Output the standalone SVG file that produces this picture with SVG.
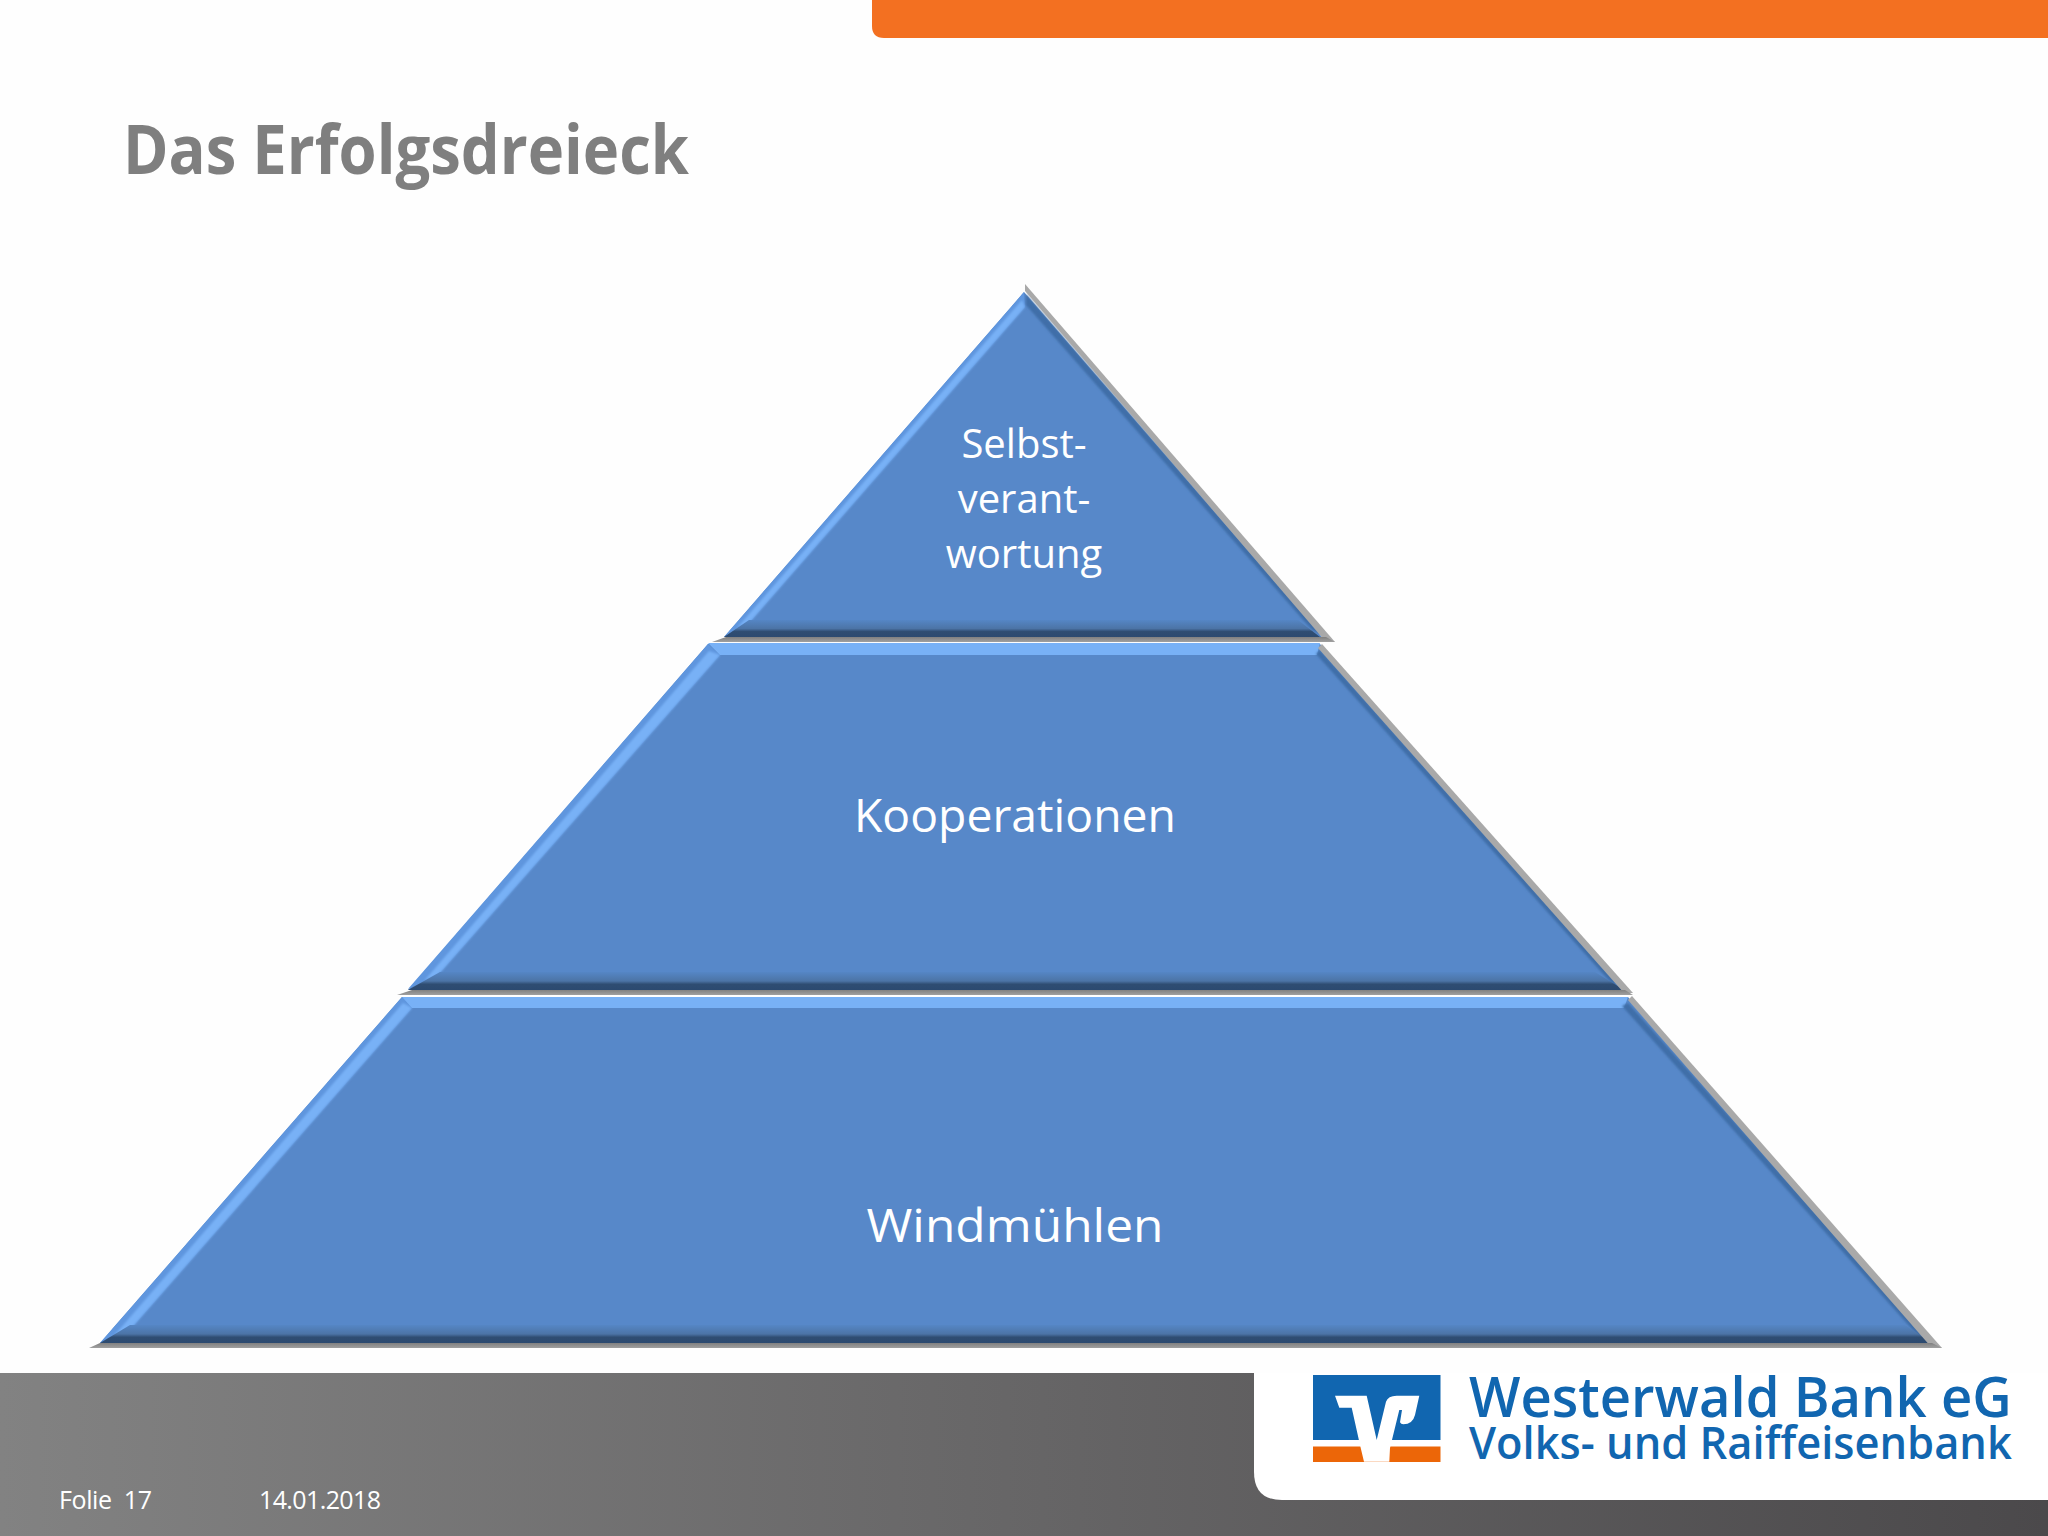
<svg xmlns="http://www.w3.org/2000/svg" width="2048" height="1536" viewBox="0 0 2048 1536">
<defs>
<style>
.t{font-family:"Open Sans","Noto Sans","Liberation Sans",sans-serif;fill:#fff;text-anchor:middle}
.b{fill:#5788c9}.me{fill:#5f96de}.l{fill:#78b1f6;filter:url(#soft)}.lt{fill:#78b1f6}.g{fill:#a9a9a9}.gd{fill:url(#grey)}.bot{fill:url(#bot)}
.e{fill:#3f6ea8;filter:url(#soft)}
.logo{font-family:"Open Sans","Noto Sans",sans-serif;font-weight:600;fill:#1166b0}
.foot{font-family:"Open Sans",sans-serif;font-size:25px;fill:#fff}
</style>
<linearGradient id="foot" x1="0" x2="1" y1="0" y2="0"><stop offset="0" stop-color="#828282"/><stop offset="1" stop-color="#4b494b"/></linearGradient>
<linearGradient id="bot" x1="0" x2="0" y1="0" y2="1"><stop offset="0" stop-color="#5586c5"/><stop offset=".5" stop-color="#4c74a6"/><stop offset=".68" stop-color="#2f4d72"/><stop offset="1" stop-color="#2c4a70"/></linearGradient>
<linearGradient id="grey" x1="0" x2="0" y1="0" y2="1"><stop offset="0" stop-color="#808080"/><stop offset="1" stop-color="#a0a0a0"/></linearGradient>
<filter id="soft" x="-5%" y="-5%" width="110%" height="110%"><feGaussianBlur stdDeviation="1.300"/></filter>
</defs>
<rect width="2048" height="1536" fill="#fefefe"/>
<path d="M872 0H2048V38H884Q872 38 872 26Z" fill="#f37021"/>
<text x="123" y="174" font-family="'Open Sans',sans-serif" font-weight="700" font-size="68" fill="#7f7f7f" textLength="566" lengthAdjust="spacingAndGlyphs">Das Erfolgsdreieck</text>
<g id="foot-band">
<rect y="1373" width="2048" height="163" fill="url(#foot)"/>
<path d="M1254 1373V1472Q1254 1500 1282 1500H2048V1373Z" fill="#fff"/>
<text class="foot" x="59" y="1509" textLength="93" xml:space="preserve">Folie  17</text>
<text class="foot" x="259" y="1509" textLength="122">14.01.2018</text>
</g>
<g id="logo">
<rect x="1313" y="1375" width="127.500" height="65" fill="#1166b0"/>
<rect x="1313" y="1446.500" width="127.500" height="15.500" fill="#ec6608"/>
<path d="M1335 1395.700H1366.700L1376.700 1440L1386 1401.700Q1388 1395.700 1396.700 1395.700H1419.300L1415 1415Q1412.700 1424.300 1403.300 1424.300Q1401 1424.300 1400 1422.300L1402 1410H1399.300L1390 1448L1389.300 1461.700H1364L1360 1445L1351.700 1407.700H1339.300Z" fill="#fff"/>
<text class="logo" transform="translate(1469 1417) scale(.9 1)" font-size="56" textLength="603" lengthAdjust="spacingAndGlyphs">Westerwald Bank eG</text>
<text class="logo" transform="translate(1469 1459) scale(.87 1)" font-size="46" textLength="624" lengthAdjust="spacingAndGlyphs">Volks- und Raiffeisenbank</text>
</g>
<g id="connectors"/>
<g id="tier-top">
<path class="b" d="M1024 292L1322 637H724Z"/>
<path class="me" d="M1024 292L724 637L749 623L1025 307Z"/>
<path class="l" d="M1022 300L1025 307L749 623L737 628Z"/>
<path class="e" d="M1026 294L1324 636L1312 630L1026 305Z"/>
<path class="bot" d="M749 620H1298L1320 637H724Z"/>
<path class="g" d="M1025 284L1335 642H1326L1025 291Z"/>
<path class="gd" d="M712 642L726 637H1326L1335 642Z"/>
<text class="t" x="1024" y="458" font-size="40">Selbst-</text>
<text class="t" x="1024" y="513" font-size="40">verant-</text>
<text class="t" x="1024" y="568" font-size="40">wortung</text>
</g>
<g id="tier-mid">
<path class="b" d="M708 644H1320L1626 990H408Z"/>
<path class="me" d="M708 644L408 989L438 975L720 655Z"/>
<path class="l" d="M709 651L720 655L438 975L424 981Z"/>
<path class="lt" d="M708 643H1320L1317 655H720Z"/>
<path class="e" d="M1320 650L1624 990L1612 984L1316 654Z"/>
<path class="bot" d="M440 972H1595L1624 990H408Z"/>
<path class="g" d="M1322 644L1633 993H1624L1318 648Z"/>
<path class="gd" d="M397 995L412 990H1625L1633 995Z"/>
<text class="t" x="1015" y="832" font-size="46" textLength="322" lengthAdjust="spacingAndGlyphs">Kooperationen</text>
</g>
<g id="tier-base">
<path class="b" d="M402 997H1628L1933 1343H100Z"/>
<path class="me" d="M402 997L100 1343L128 1332L412 1008Z"/>
<path class="l" d="M403 1003L412 1008L128 1332L112 1338Z"/>
<path class="lt" d="M402 997H1628L1624 1008H412Z"/>
<path class="e" d="M1628 1003L1932 1343L1920 1338L1622 1006Z"/>
<path class="bot" d="M130 1325H1905L1932 1343H100Z"/>
<path class="g" d="M1632 996L1942 1348H1932L1628 1000Z"/>
<path class="gd" d="M89 1348L100 1343H1932L1942 1348Z"/>
<text class="t" x="1015" y="1242" font-size="46" textLength="297" lengthAdjust="spacingAndGlyphs">Windmühlen</text>
</g>
</svg>
